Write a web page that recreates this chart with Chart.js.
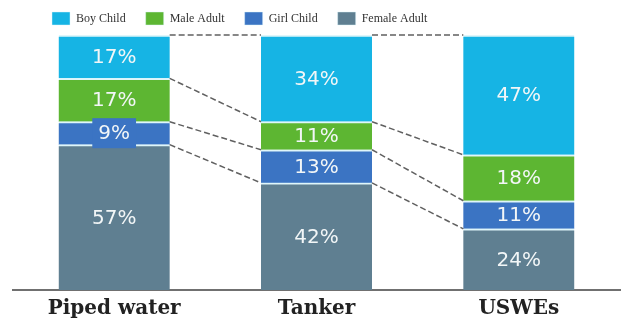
<!DOCTYPE html>
<html>
<head>
<meta charset="utf-8">
<script src="https://cdn.jsdelivr.net/npm/chart.js@4.4.0/dist/chart.umd.min.js"></script>
<style>
  html, body { margin: 0; padding: 0; background: #fff; }
  #wrap { width: 622px; height: 322px; }
</style>
</head>
<body>
<div id="wrap"><canvas id="chart"></canvas></div>
<script>
// data, bottom of the stack first
const categories = ['Piped water', 'Tanker', 'USWEs'];
const femaleAdult = [57, 42, 24];
const girlChild = [9, 13, 11];
const maleAdult = [17, 11, 18];
const boyChild = [17, 34, 47];

const colors = {
    boy: '#16b4e4',
    male: '#5db632',
    girl: '#3b74c3',
    female: '#5f7f91'
};

// shrink the legend's reserved height so bars start near the top
const legendFit = {
    id: 'legendFit',
    beforeInit(chart) {
        const origFit = chart.legend.fit;
        chart.legend.fit = function () {
            origFit.call(this);
            this.height = 35;
        };
    },
    afterUpdate(chart) {
        // legend row sits left of centre in the picture
        chart.legend.left = 32;
        chart.legend.top = -8;
    }
};

// dashed lines between the segment tops of neighbouring bars
const connectors = {
    id: 'connectors',
    afterDatasetsDraw(chart) {
        const ctx = chart.ctx;
        ctx.save();
        ctx.strokeStyle = '#606060';
        ctx.lineWidth = 1.5;
        ctx.setLineDash([6, 3]);
        chart.data.datasets.forEach((ds, d) => {
            const bars = chart.getDatasetMeta(d).data;
            for (let i = 0; i < bars.length - 1; i++) {
                const a = bars[i], b = bars[i + 1];
                ctx.beginPath();
                ctx.moveTo(a.x + a.width / 2, a.y);
                ctx.lineTo(b.x - b.width / 2, b.y);
                ctx.stroke();
            }
        });
        ctx.restore();
    }
};

// percentage labels in the middle of each segment
const segLabels = {
    id: 'segLabels',
    afterDatasetsDraw(chart) {
        const ctx = chart.ctx;
        ctx.save();
        ctx.font = '20px "DejaVu Sans"';
        ctx.textAlign = 'center';
        ctx.textBaseline = 'middle';
        chart.data.datasets.forEach((ds, d) => {
            chart.getDatasetMeta(d).data.forEach((bar, i) => {
                const txt = ds.data[i] + '%';
                const cy = (bar.y + bar.base) / 2;
                if (Math.abs(bar.base - bar.y) < 26) {
                    const w = ctx.measureText(txt).width + 12;
                    ctx.fillStyle = ds.backgroundColor;
                    ctx.fillRect(bar.x - w / 2, cy - 15, w, 30);
                }
                ctx.fillStyle = '#f2f6f7';
                ctx.fillText(txt, bar.x, cy + 1);
            });
        });
        ctx.restore();
    }
};

const segBorder = { top: 2, left: 0, right: 0, bottom: 0 };

new Chart(document.getElementById('chart'), {
    type: 'bar',
    data: {
        labels: categories,
        datasets: [
            { label: 'Female Adult', data: femaleAdult, backgroundColor: colors.female },
            { label: 'Girl Child', data: girlChild, backgroundColor: colors.girl },
            { label: 'Male Adult', data: maleAdult, backgroundColor: colors.male },
            { label: 'Boy Child', data: boyChild, backgroundColor: colors.boy }
        ].map(ds => Object.assign(ds, {
            borderColor: 'rgba(220,245,250,0.9)',
            borderWidth: segBorder,
            borderSkipped: false,
            barThickness: 111
        }))
    },
    options: {
        responsive: true,
        maintainAspectRatio: false,
        animation: false,
        layout: { padding: { left: 13, right: 2, top: 0, bottom: 0 } },
        scales: {
            x: {
                stacked: true,
                afterFit(scale) { scale.height = 32; },
                grid: { display: false, drawTicks: false },
                border: { display: true, color: '#707070', width: 2 },
                ticks: {
                    padding: 7,
                    color: '#222',
                    font: { family: '"DejaVu Serif"', size: 20, weight: 'bold' }
                }
            },
            y: {
                stacked: true,
                display: false,
                min: 0,
                max: 100
            }
        },
        plugins: {
            tooltip: { enabled: false },
            legend: {
                display: true,
                position: 'top',
                align: 'start',
                reverse: true,
                labels: {
                    boxWidth: 18,
                    boxHeight: 13,
                    padding: 20,
                    color: '#333',
                    font: { family: '"Liberation Serif"', size: 12 }
                }
            }
        }
    },
    plugins: [legendFit, connectors, segLabels]
});
</script>
</body>
</html>
